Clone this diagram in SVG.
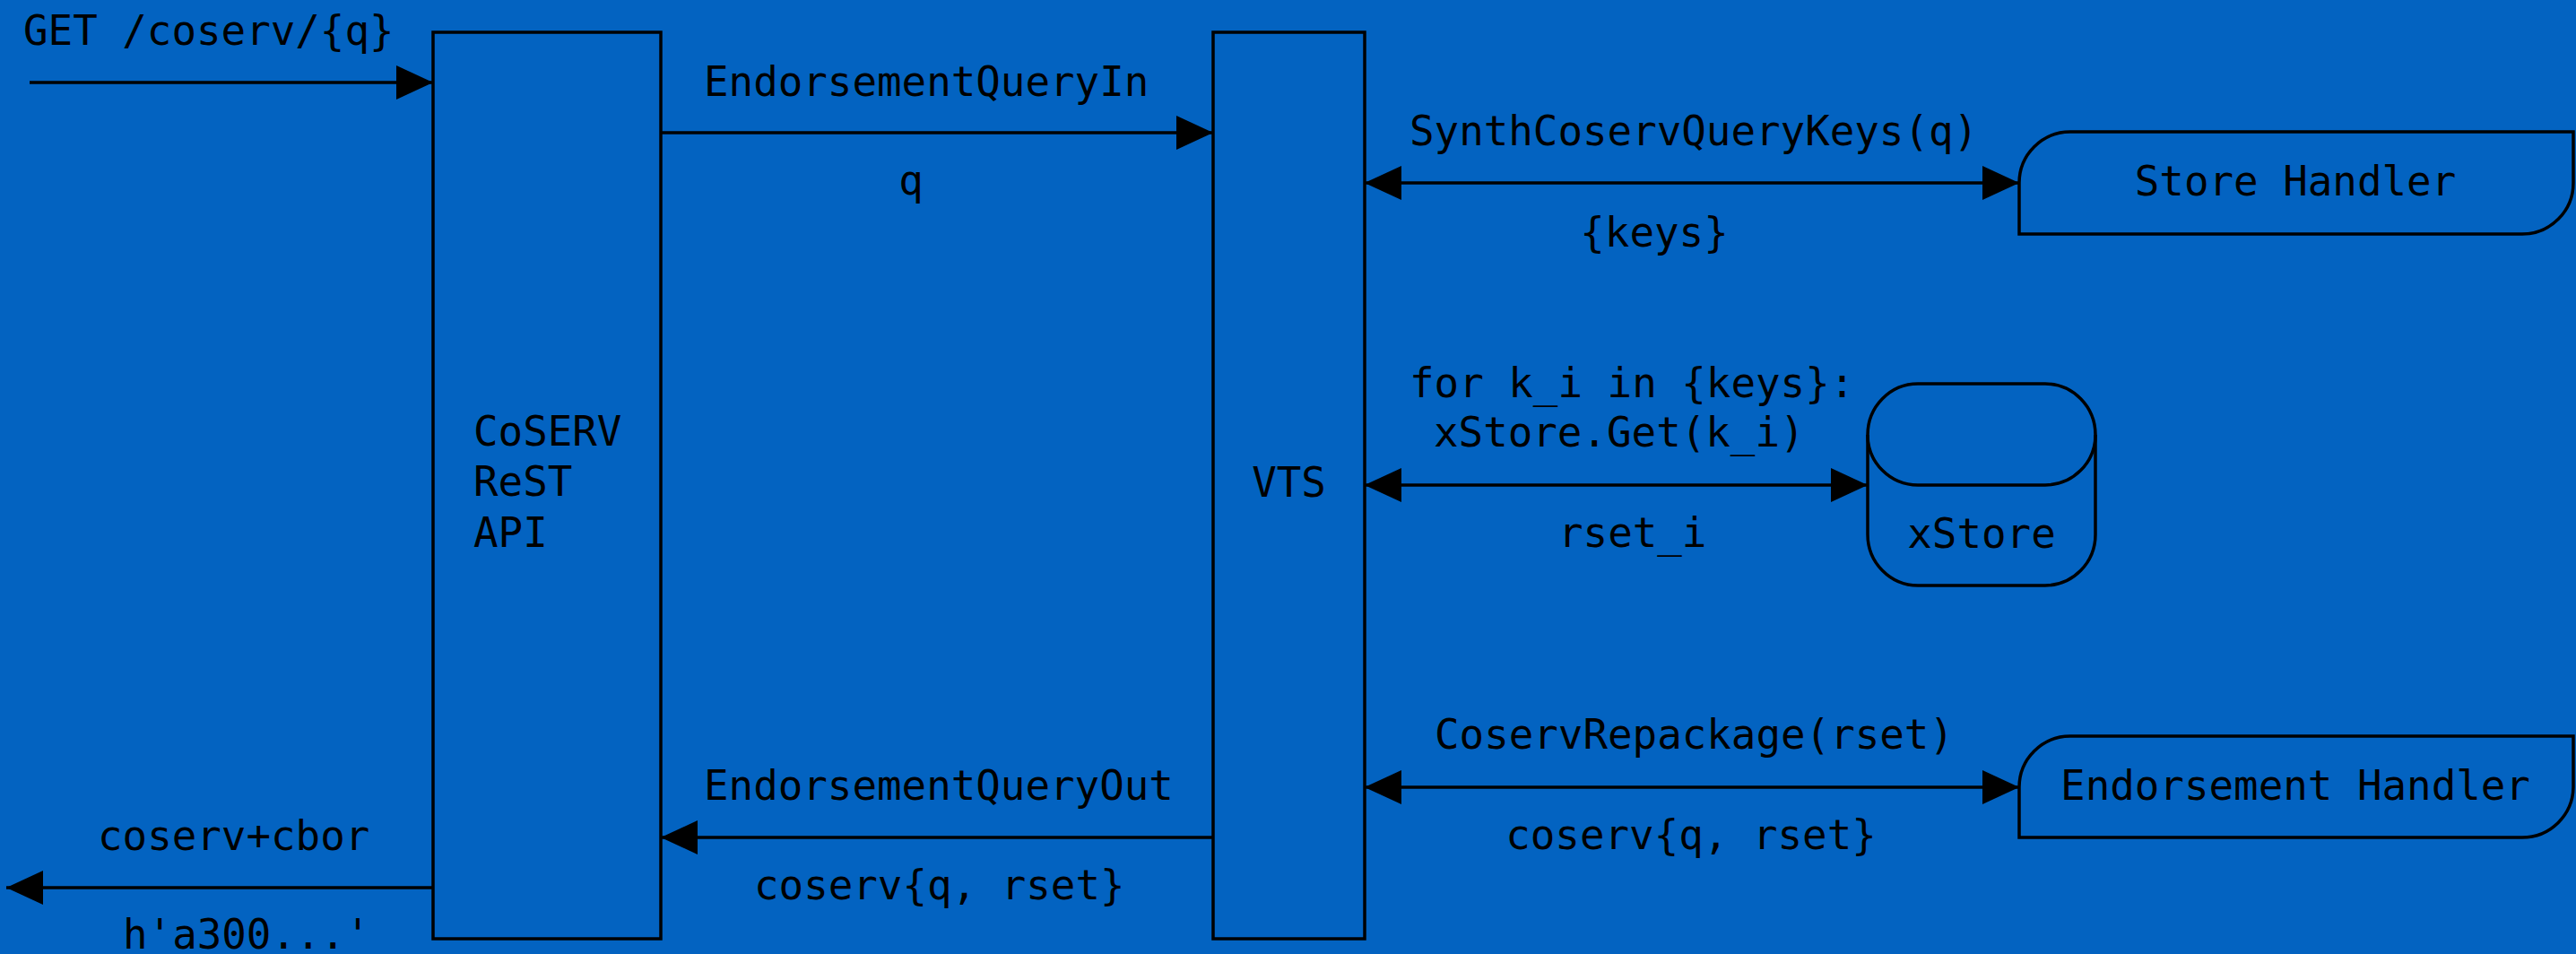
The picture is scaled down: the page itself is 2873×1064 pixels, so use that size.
<svg xmlns="http://www.w3.org/2000/svg" width="2873" height="1064" viewBox="0 0 2873 1064">
<style>
text { font-family: "DejaVu Sans Mono", "Liberation Mono", monospace; font-size: 45.8px; fill: #000; }
.shape { fill: none; stroke: #000; stroke-width: 3.5; }
.conn { fill: none; stroke: #000; stroke-width: 3.5; }
.mid { text-anchor: middle; }
</style>
<defs>
<marker id="ah" markerUnits="userSpaceOnUse" markerWidth="42" markerHeight="38" refX="41" refY="19" orient="auto-start-reverse" viewBox="0 0 42 38">
<path d="M0,0 L41,19 L0,38 Z" fill="#000"/>
</marker>
</defs>
<rect width="2873" height="1064" fill="#0363c1"/>
<g id="coserv-api">
<rect class="shape" x="483" y="36" width="254" height="1011"/>
<text x="528" y="497">CoSERV</text>
<text x="528" y="553">ReST</text>
<text x="528" y="610">API</text>
</g>
<g id="vts">
<rect class="shape" x="1353" y="36" width="169" height="1011"/>
<text class="mid" x="1437.5" y="554">VTS</text>
</g>
<g id="store-handler">
<path class="shape" d="M2252,261 V204 A57,57 0 0 1 2309,147 H2870 V204 A57,57 0 0 1 2813,261 Z"/>
<text class="mid" x="2560" y="218">Store Handler</text>
</g>
<g id="xstore">
<rect class="shape" x="2083" y="428" width="254" height="225" rx="56" ry="57"/>
<path class="shape" d="M2083,485 A56,56 0 0 0 2139,541 H2281 A56,56 0 0 0 2337,485"/>
<text class="mid" x="2210" y="611">xStore</text>
</g>
<g id="endorsement-handler">
<path class="shape" d="M2252,934 V878 A57,57 0 0 1 2309,821 H2870 V878 A57,57 0 0 1 2813,934 Z"/>
<text class="mid" x="2560" y="892">Endorsement Handler</text>
</g>
<g id="connectors">
<line class="conn" x1="33" y1="92" x2="483" y2="92" marker-end="url(#ah)"/>
<text x="26" y="50">GET /coserv/{q}</text>
<line class="conn" x1="737" y1="148" x2="1353" y2="148" marker-end="url(#ah)"/>
<text x="785" y="107">EndorsementQueryIn</text>
<text class="mid" x="1016" y="217">q</text>
<line class="conn" x1="1522" y1="204" x2="2252" y2="204" marker-start="url(#ah)" marker-end="url(#ah)"/>
<text x="1572" y="162">SynthCoservQueryKeys(q)</text>
<text class="mid" x="1845" y="275">{keys}</text>
<line class="conn" x1="1522" y1="541" x2="2083" y2="541" marker-start="url(#ah)" marker-end="url(#ah)"/>
<text x="1572" y="443">for k_i in {keys}:</text>
<text x="1599" y="498">xStore.Get(k_i)</text>
<text x="1738" y="610">rset_i</text>
<line class="conn" x1="1522" y1="878" x2="2252" y2="878" marker-start="url(#ah)" marker-end="url(#ah)"/>
<text x="1600" y="835">CoservRepackage(rset)</text>
<text class="mid" x="1886" y="947">coserv{q, rset}</text>
<line class="conn" x1="1353" y1="934" x2="737" y2="934" marker-end="url(#ah)"/>
<text x="785" y="892">EndorsementQueryOut</text>
<text x="841" y="1003">coserv{q, rset}</text>
<line class="conn" x1="483" y1="990" x2="7" y2="990" marker-end="url(#ah)"/>
<text x="109" y="948">coserv+cbor</text>
<text x="137" y="1058">h'a300...'</text>
</g>
</svg>
